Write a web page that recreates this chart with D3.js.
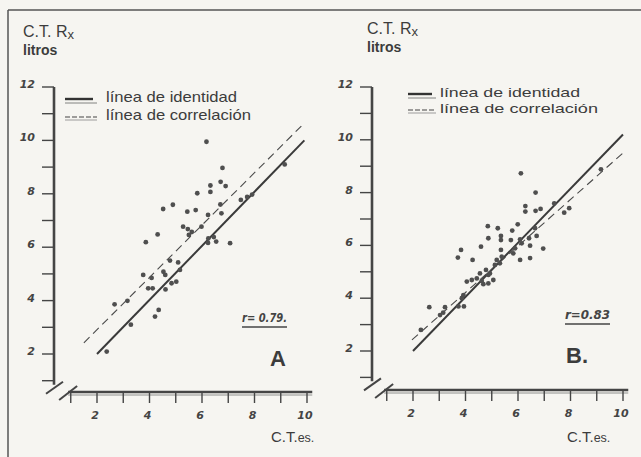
<!DOCTYPE html>
<html lang="es">
<head>
<meta charset="UTF-8">
<title>C.T. Rx vs C.T.es.</title>
<script src="https://d3js.org/d3.v7.min.js"></script>
<style>
  body { margin: 0; background: #f6f5f1; }
  svg { display: block; }
  .label { font-family: "Liberation Sans", Arial, sans-serif; fill: #3c3c3c; }
  .hand { font-family: "DejaVu Sans", sans-serif; font-style: italic; fill: #444; }
</style>
</head>
<body>
<div id="chart"></div>
<script>
// values (x = C.T.es., y = C.T. Rx, litros)
const pointsA = [
  [6.17, 9.95], [6.78, 8.97], [9.15, 9.10], [6.71, 8.45], [6.90, 8.29], [6.32, 8.31],
  [6.32, 8.07], [5.82, 8.02], [4.89, 7.59], [4.52, 7.43], [5.44, 7.33], [5.76, 7.39],
  [6.70, 7.60], [6.74, 7.27], [6.23, 7.21], [7.48, 7.77], [7.72, 7.88], [7.91, 7.97],
  [5.28, 6.77], [5.46, 6.68], [5.50, 6.46], [5.61, 6.57], [5.98, 6.77], [6.24, 6.33],
  [6.45, 6.38], [6.54, 6.21], [6.23, 6.16], [7.07, 6.15], [3.86, 6.19], [4.31, 6.48],
  [3.76, 4.96], [4.08, 4.85], [4.78, 5.50], [4.53, 5.08], [4.60, 4.96], [5.09, 5.43],
  [5.16, 5.15], [3.95, 4.46], [4.12, 4.46], [4.61, 4.42], [4.84, 4.65], [5.02, 4.71],
  [2.67, 3.86], [3.16, 3.99], [4.35, 3.65], [4.21, 3.40], [3.29, 3.10], [2.37, 2.09]
];
const pointsB = [
  [6.11, 8.73], [6.67, 8.00], [6.28, 7.49], [6.28, 7.28], [6.67, 7.31], [6.86, 7.38],
  [7.38, 7.59], [7.76, 7.24], [7.95, 7.41], [9.16, 8.88], [4.85, 6.73], [5.23, 6.65],
  [5.99, 6.80], [5.78, 6.56], [5.35, 6.36], [5.35, 6.20], [4.87, 6.27], [5.73, 6.20],
  [6.08, 6.23], [6.14, 6.08], [6.42, 6.27], [6.65, 6.65], [6.71, 6.36], [6.46, 5.99],
  [6.96, 5.88], [4.59, 5.95], [3.83, 5.83], [5.35, 5.83], [5.89, 5.89], [5.82, 5.70],
  [3.71, 5.54], [4.27, 5.45], [6.08, 5.45], [6.46, 5.52], [5.38, 5.57], [5.19, 5.45],
  [5.12, 5.26], [5.31, 5.32], [4.78, 5.07], [4.87, 4.88], [4.55, 4.94], [4.24, 4.69],
  [4.43, 4.75], [4.62, 4.65], [4.68, 4.53], [4.87, 4.56], [5.06, 4.69], [4.05, 4.63],
  [4.93, 4.94], [3.86, 4.00], [3.92, 4.12], [3.73, 3.69], [3.94, 3.69], [2.62, 3.66],
  [3.22, 3.66], [3.03, 3.36], [3.15, 3.45], [2.30, 2.80]
];
const identityA = [[2, 2], [9.9, 10]];
const correlA = [[1.5, 2.42], [9.9, 10.65]];
const identityB = [[2, 2], [10, 10.2]];
const correlB = [[1.96, 2.42], [10, 9.5]];

const xTicks = [1, 2, 3, 4, 5, 6, 7, 8, 9, 10];
const xTickLabels = [2, 4, 6, 8, 10];
const yTicks = [1, 2, 3, 4, 5, 6, 7, 8, 9, 10, 11, 12];
const yTickLabels = [2, 4, 6, 8, 10, 12];
const legendLabels = ["línea de identidad", "línea de correlación"];
const rLabels = ["r= 0.79.", "r=0.83"];
const panelLetters = ["A", "B."];

const W = 641, H = 457;
const svg = d3.select("#chart").append("svg").attr("width", W).attr("height", H);

// frame of the scanned page
svg.append("line").attr("x1", 8).attr("x2", W).attr("y1", 10).attr("y2", 10)
  .attr("stroke", "#555").attr("stroke-width", 1.5);
svg.append("line").attr("x1", 8).attr("x2", 8).attr("y1", 10).attr("y2", H)
  .attr("stroke", "#555").attr("stroke-width", 1.5);

const ink = "#454545";

function drawPanel(p) {
  const x = d3.scaleLinear().domain([2, 10]).range([p.x2, p.x10]);
  const y = d3.scaleLinear().domain([2, 12]).range([p.y2, p.y12]);
  const g = svg.append("g");
  const yAxisX = p.yAxisX, xAxisY = p.xAxisY;

  // titles
  g.append("text").attr("class", "label").attr("x", p.titleX).attr("y", p.titleY)
    .attr("font-size", 16).text("C.T. R")
    .append("tspan").attr("font-size", 13).attr("dy", 2).text("x");
  g.append("text").attr("class", "label").attr("x", p.titleX).attr("y", p.titleY + 18)
    .attr("font-size", 14).attr("font-weight", "bold").attr("fill", "#555").text("litros");

  // y axis
  g.append("line").attr("x1", yAxisX).attr("x2", yAxisX)
    .attr("y1", y(12)).attr("y2", y(0.85))
    .attr("stroke", ink).attr("stroke-width", 2.6);
  g.selectAll(".yt").data(yTicks).enter().append("line")
    .attr("x1", yAxisX - 12).attr("x2", yAxisX)
    .attr("y1", d => y(d)).attr("y2", d => y(d))
    .attr("stroke", ink).attr("stroke-width", 1.4);
  g.selectAll(".yl").data(yTickLabels).enter().append("text")
    .attr("class", "hand").attr("font-size", 11).attr("font-weight", "bold")
    .attr("text-anchor", "end")
    .attr("x", yAxisX - 19).attr("y", d => y(d) + 1)
    .text(d => d);
  // axis break marks
  g.append("line").attr("x1", yAxisX - 8).attr("y1", y(0.85) + 9)
    .attr("x2", yAxisX + 9).attr("y2", y(0.85) - 3)
    .attr("stroke", ink).attr("stroke-width", 2);

  // x axis
  g.append("line").attr("x1", x(0.9)).attr("x2", x(10.2))
    .attr("y1", xAxisY).attr("y2", xAxisY)
    .attr("stroke", ink).attr("stroke-width", 2.6);
  g.append("line").attr("x1", x(0.9)).attr("x2", x(10.2))
    .attr("y1", xAxisY + 3).attr("y2", xAxisY + 3)
    .attr("stroke", "#777").attr("stroke-width", 0.8);
  g.selectAll(".xt").data(xTicks).enter().append("line")
    .attr("x1", d => x(d)).attr("x2", d => x(d))
    .attr("y1", xAxisY).attr("y2", xAxisY + 11)
    .attr("stroke", ink).attr("stroke-width", 1.4);
  g.selectAll(".xl").data(xTickLabels).enter().append("text")
    .attr("class", "hand").attr("font-size", 11).attr("font-weight", "bold")
    .attr("text-anchor", "middle")
    .attr("x", d => x(d) - 2).attr("y", xAxisY + 27)
    .text(d => d);
  g.append("line").attr("x1", x(0.9) - 9).attr("y1", xAxisY + 8)
    .attr("x2", x(0.9) + 9).attr("y2", xAxisY - 6)
    .attr("stroke", ink).attr("stroke-width", 2);

  g.append("text").attr("class", "label").attr("font-size", 15)
    .attr("x", p.esX).attr("y", 442).text("C.T.")
    .append("tspan").attr("font-size", 12.5).text("es.");

  // lines
  const line = d3.line().x(d => x(d[0])).y(d => y(d[1]));
  g.append("path").attr("d", line(p.identity)).attr("fill", "none")
    .attr("stroke", "#3a3a3a").attr("stroke-width", 2);
  g.append("path").attr("d", line(p.correl)).attr("fill", "none")
    .attr("stroke", "#4a4a4a").attr("stroke-width", 1.1)
    .attr("stroke-dasharray", "8,5");

  // points
  g.selectAll(".pt").data(p.points).enter().append("circle")
    .attr("cx", d => x(d[0])).attr("cy", d => y(d[1]))
    .attr("r", 2.4).attr("fill", "#4f4f4f");

  // legend
  const lx = p.legX, ly = p.legY, lw = p.legW;
  g.append("line").attr("x1", lx).attr("x2", lx + lw - 4).attr("y1", ly).attr("y2", ly)
    .attr("stroke", "#333").attr("stroke-width", 2.4);
  g.append("line").attr("x1", lx).attr("x2", lx + lw).attr("y1", ly + 4).attr("y2", ly + 4)
    .attr("stroke", "#666").attr("stroke-width", 0.8);
  g.append("line").attr("x1", lx).attr("x2", lx + lw).attr("y1", ly + p.legGap).attr("y2", ly + p.legGap)
    .attr("stroke", "#444").attr("stroke-width", 1.2).attr("stroke-dasharray", "5,2");
  g.append("line").attr("x1", lx).attr("x2", lx + lw).attr("y1", ly + p.legGap + 3).attr("y2", ly + p.legGap + 3)
    .attr("stroke", "#777").attr("stroke-width", 0.7);
  legendLabels.forEach((t, i) => {
    g.append("text").attr("class", "label").attr("font-size", p.legFont)
      .attr("x", p.legTextX).attr("y", ly + 3 + i * p.legGap)
      .attr("textLength", p.legLens[i]).attr("lengthAdjust", "spacingAndGlyphs")
      .text(t);
  });

  // r value and panel letter
  g.append("text").attr("class", "hand").attr("font-size", 12)
    .attr("font-weight", "bold").attr("x", p.rX).attr("y", p.rY)
    .attr("textLength", 45).attr("lengthAdjust", "spacingAndGlyphs").text(p.r);
  g.append("line").attr("x1", p.rX).attr("x2", p.rX + 45)
    .attr("y1", p.rY + 5).attr("y2", p.rY + 5)
    .attr("stroke", ink).attr("stroke-width", 1.4);
  g.append("text").attr("class", "label").attr("font-size", 22)
    .attr("font-weight", "bold").attr("fill", "#444")
    .attr("x", p.letterX).attr("y", p.letterY).text(p.letter);
}

drawPanel({
  points: pointsA, identity: identityA, correl: correlA,
  x2: 97, x10: 307, y2: 354, y12: 87, yAxisX: 54, xAxisY: 392,
  titleX: 23, titleY: 37, esX: 271,
  legX: 65, legY: 99, legW: 32, legGap: 18, legFont: 15, legLens: [131, 145], legTextX: 106,
  r: rLabels[0], rX: 242, rY: 322, letter: panelLetters[0], letterX: 270, letterY: 366
});
drawPanel({
  points: pointsB, identity: identityB, correl: correlB,
  x2: 413, x10: 623, y2: 351, y12: 87, yAxisX: 372, xAxisY: 390,
  titleX: 367, titleY: 34, esX: 567,
  legX: 408, legY: 94, legW: 28, legGap: 16, legFont: 13.5, legLens: [140, 158], legTextX: 440,
  r: rLabels[1], rX: 565, rY: 319, letter: panelLetters[1], letterX: 566, letterY: 363
});
</script>
</body>
</html>
